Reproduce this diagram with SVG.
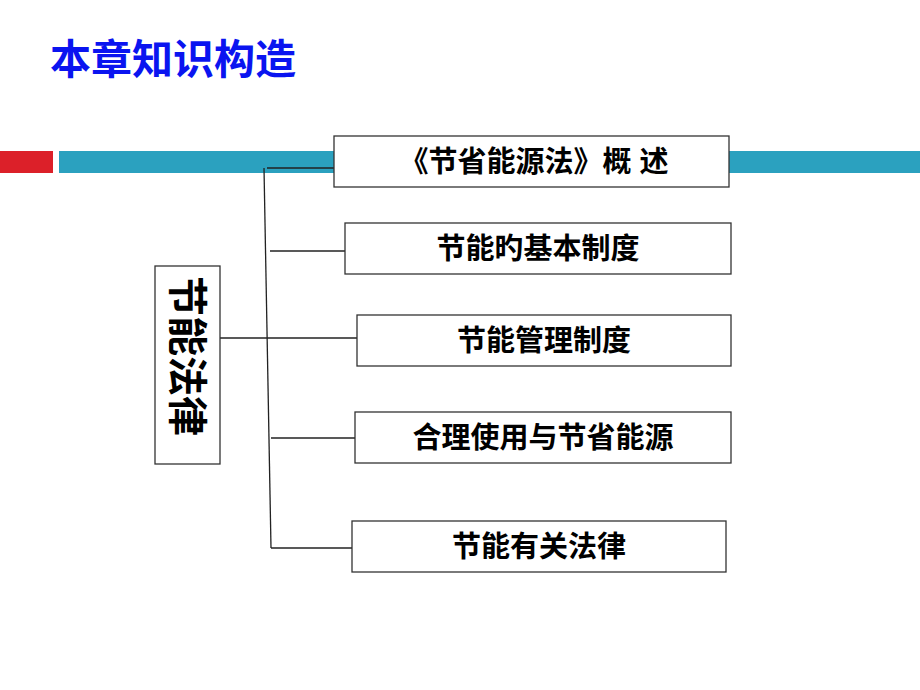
<svg xmlns="http://www.w3.org/2000/svg" width="920" height="690" viewBox="0 0 920 690">
<style>
.b{fill:#fff;stroke:#333;stroke-width:1.3}
.t{font-family:"Liberation Sans","Noto Sans CJK SC",sans-serif;font-weight:bold;font-size:29px;fill:#000;text-anchor:middle}
.c{stroke:#222;stroke-width:1.3;fill:none}
</style>
<rect width="920" height="690" fill="#fff"/>
<text x="50" y="74" font-family="Liberation Sans,Noto Sans CJK SC,sans-serif" font-weight="bold" font-size="41" fill="#0a14f0">本章知识构造</text>
<rect x="0" y="151" width="53" height="22" fill="#dc2029"/>
<rect x="59" y="151" width="861" height="22" fill="#2ba1bf"/>
<g id="connectors">
<line class="c" x1="264" y1="168" x2="271" y2="548"/>
<line class="c" x1="267" y1="168" x2="334" y2="168"/>
<line class="c" x1="270" y1="251" x2="345" y2="251"/>
<line class="c" x1="219" y1="338" x2="357" y2="338"/>
<line class="c" x1="271" y1="438" x2="355" y2="438"/>
<line class="c" x1="271" y1="548" x2="352" y2="548"/>
</g>
<g id="root"><rect class="b" x="155" y="266" width="65" height="198"/>
<text class="t" style="font-size:40px" transform="translate(187,356) rotate(90)" x="0" y="14">节能法律</text></g>
<g id="n1"><rect class="b" x="334" y="136" width="395" height="51"/><text class="t" x="534" y="172">《节省能源法》概  述</text></g>
<g id="n2"><rect class="b" x="345" y="223" width="386" height="51"/><text class="t" x="538" y="259">节能旳基本制度</text></g>
<g id="n3"><rect class="b" x="357" y="315" width="374" height="51"/><text class="t" x="544" y="351">节能管理制度</text></g>
<g id="n4"><rect class="b" x="355" y="412" width="376" height="51"/><text class="t" x="543" y="448">合理使用与节省能源</text></g>
<g id="n5"><rect class="b" x="352" y="521" width="374" height="51"/><text class="t" x="539" y="557">节能有关法律</text></g>
</svg>
